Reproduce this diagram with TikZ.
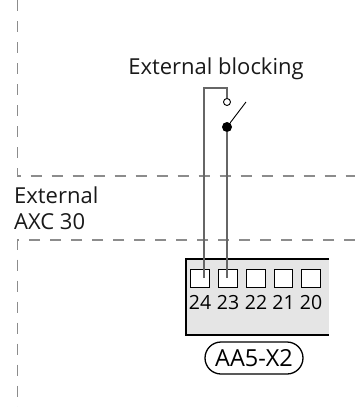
\documentclass[tikz,border=0pt]{standalone}
\usepackage{fontspec}
\setmainfont[Numbers=Lining]{Open Sans}
\usetikzlibrary{positioning}
\tikzset{
  bound/.style={draw=black!45,line width=1.6pt,dash pattern=on 11pt off 10pt},
  wire/.style={draw=black!60,line width=1.3pt},
  terminal/.style={draw=black,fill=white,line width=1.3pt,minimum size=18.5pt,inner sep=0pt},
  termnum/.style={font=\fontsize{19.5}{20}\selectfont,inner sep=0pt,anchor=base},
  lab/.style={font=\fontsize{22}{24}\selectfont,inner sep=0pt,text=black!90}
}
\begin{document}
\begin{tikzpicture}[x=1pt,y=-1pt]
          \useasboundingbox (0,0) rectangle (355,407);

          % dashed boundaries
          \draw[bound] (17.5,0) -- (17.5,176) -- (355,176);
          \draw[bound] (355,240) -- (17.5,240) -- (17.5,407);

          % terminal block
          \fill[black!10] (186,259) rectangle (329,335);
          \draw[black,line width=1.3pt] (329,259) -- (186,259) -- (186,335) -- (329,335);

          \node[terminal] (t24) at (200,278.5) {};
          \node[terminal] (t23) at (228,278.5) {};
          \node[terminal] (t22) at (256,278.5) {};
          \node[terminal] (t21) at (283.5,278.5) {};
          \node[terminal] (t20) at (311,278.5) {};

          \node[termnum] (n24) at (200,309) {24};
          \node[termnum] (n23) at (228,309) {23};
          \node[termnum] (n22) at (256,309) {22};
          \node[termnum] (n21) at (283.5,309) {21};
          \node[termnum] (n20) at (311,309) {20};

          \node[draw=black,line width=1.3pt,rounded corners=16pt,minimum width=98pt,minimum height=32pt,inner sep=0pt,
                font=\fontsize{23.5}{24}\selectfont] (block) at (254,358) {AA5-X2};

          % labels
          \node[lab,anchor=base] (title) at (216,74) {External blocking};
          \node[lab,anchor=base west] (ext) at (14,203) {External};
          \node[lab,anchor=base west] (axc) at (14,229) {AXC 30};

          % switch
          \node[circle,draw=black,fill=white,line width=.9pt,minimum size=7pt,inner sep=0pt] (open) at (227,102) {};
          \node[circle,fill=black,minimum size=10pt,inner sep=0pt] (pivot) at (227,127) {};
          \coordinate (arm) at (246,102);
          \coordinate (top) at (204,88);
          \coordinate (topr) at (227,88);
          \coordinate (end24) at (204,278);
          \coordinate (end23) at (227,278);

          \draw[wire] (end24) -- (top) -- (topr) -- (open);
          \draw[wire] (pivot) -- (end23);
          \draw[black,line width=.9pt] (pivot) -- (arm);
        \end{tikzpicture}
\end{document}
